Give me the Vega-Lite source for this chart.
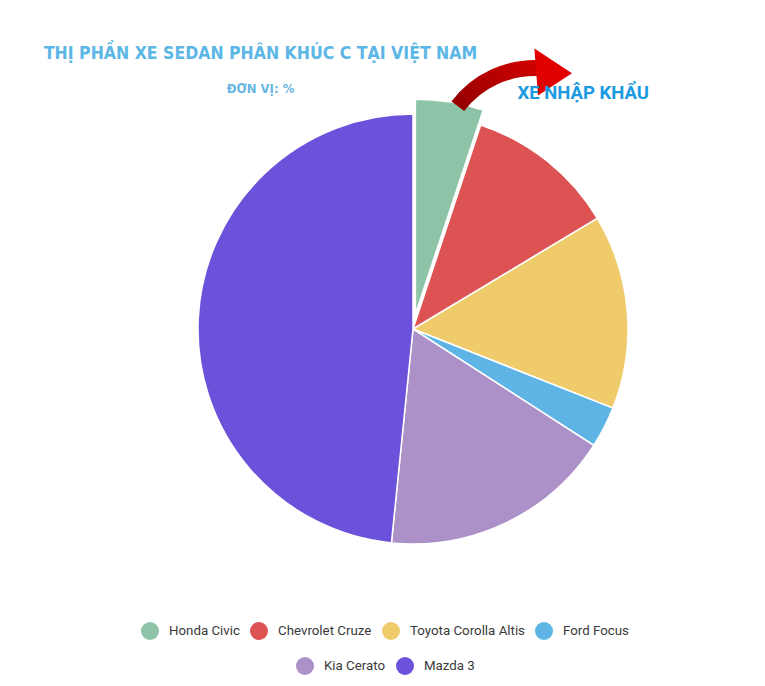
{
  "$schema": "https://vega.github.io/schema/vega-lite/v6.json",
  "width": 765,
  "height": 686,
  "autosize": {"type": "none"},
  "padding": 0,
  "background": "white",
  "title": {
    "text": "THỊ PHẦN XE SEDAN PHÂN KHÚC C TẠI VIỆT NAM",
    "subtitle": "ĐƠN VỊ: %",
    "anchor": "middle",
    "frame": "group",
    "dx": -122,
    "offset": -96,
    "font": "DejaVu Sans Condensed, DejaVu Sans, sans-serif",
    "fontSize": 17.5,
    "fontWeight": "bold",
    "color": "#5cb6e6",
    "subtitleFont": "DejaVu Sans Condensed, DejaVu Sans, sans-serif",
    "subtitleFontSize": 13,
    "subtitleFontWeight": "bold",
    "subtitleColor": "#67b5e2",
    "subtitlePadding": 21
  },
  "data": {
    "values": [
      {"brand": "Honda Civic", "share": 5.1, "rank": 1},
      {"brand": "Chevrolet Cruze", "share": 11.3, "rank": 2},
      {"brand": "Toyota Corolla Altis", "share": 14.6, "rank": 3},
      {"brand": "Ford Focus", "share": 3.1, "rank": 4},
      {"brand": "Kia Cerato", "share": 17.5, "rank": 5},
      {"brand": "Mazda 3", "share": 48.4, "rank": 6}
    ]
  },
  "layer": [
    {
      "mark": {"type": "arc", "outerRadius": 215, "stroke": "white", "strokeWidth": 1.5, "xOffset": 30.5, "yOffset": -14},
      "encoding": {
        "theta": {"field": "share", "type": "quantitative", "stack": true},
        "order": {"field": "rank", "type": "quantitative"},
        "color": {
          "field": "brand",
          "type": "nominal",
          "sort": ["Honda Civic", "Chevrolet Cruze", "Toyota Corolla Altis", "Ford Focus", "Kia Cerato", "Mazda 3"],
          "scale": {
            "domain": ["Honda Civic", "Chevrolet Cruze", "Toyota Corolla Altis", "Ford Focus", "Kia Cerato", "Mazda 3"],
            "range": ["#8dc3a7", "#dd5354", "#efcb6b", "#5db4e5", "#ab91c8", "#6c52db"]
          },
          "legend": {
            "title": null,
            "orient": "none",
            "legendX": 141,
            "legendY": 622,
            "direction": "horizontal",
            "values": ["Honda Civic", "Chevrolet Cruze", "Toyota Corolla Altis", "Ford Focus"],
            "symbolType": "circle",
            "symbolSize": 324,
            "symbolStrokeWidth": 0,
            "labelFont": "Roboto",
            "labelFontSize": 13.3,
            "labelFontWeight": "normal",
            "labelColor": "#3a3a3a",
            "labelOffset": 10,
            "columnPadding": 10
          }
        },
        "opacity": {
          "condition": {"test": "datum.brand === 'Honda Civic'", "value": 0},
          "value": 1
        }
      }
    },
    {
      "transform": [{"filter": "datum.brand === 'Kia Cerato' || datum.brand === 'Mazda 3'"}],
      "mark": {"type": "arc", "outerRadius": 0, "innerRadius": 0, "strokeWidth": 0},
      "encoding": {
        "theta": {"field": "share", "type": "quantitative", "stack": true},
        "fill": {
          "field": "brand",
          "type": "nominal",
          "sort": ["Kia Cerato", "Mazda 3"],
          "scale": {
            "domain": ["Kia Cerato", "Mazda 3"],
            "range": ["#ab91c8", "#6c52db"]
          },
          "legend": {
            "title": null,
            "orient": "none",
            "legendX": 296,
            "legendY": 657,
            "direction": "horizontal",
            "symbolType": "circle",
            "symbolSize": 324,
            "symbolStrokeWidth": 0,
            "symbolOpacity": 1,
            "labelFont": "Roboto",
            "labelFontSize": 13.3,
            "labelFontWeight": "normal",
            "labelColor": "#3a3a3a",
            "labelOffset": 10,
            "columnPadding": 10
          }
        }
      }
    },
    {
      "transform": [{"filter": "datum.brand === 'Honda Civic'"}],
      "mark": {"type": "arc", "outerRadius": 215, "stroke": "white", "strokeWidth": 1.5, "xOffset": 32.9, "yOffset": -28.8},
      "encoding": {
        "theta": {"field": "share", "type": "quantitative", "stack": true},
        "order": {"field": "rank", "type": "quantitative"},
        "color": {"field": "brand", "type": "nominal"}
      }
    },
    {
      "transform": [{"filter": "datum.brand === 'Honda Civic'"}],
      "mark": {
        "type": "arc",
        "theta": -0.92,
        "theta2": 0.06,
        "innerRadius": 89,
        "outerRadius": 105,
        "xOffset": 152.5,
        "yOffset": -178,
        "color": {
          "gradient": "linear",
          "x1": 0, "y1": 1, "x2": 1, "y2": 0,
          "stops": [{"offset": 0, "color": "#8e0000"}, {"offset": 1, "color": "#d40000"}]
        }
      },
      "encoding": {}
    },
    {
      "transform": [{"filter": "datum.brand === 'Honda Civic'"}],
      "mark": {
        "type": "point",
        "shape": "M-0.6,-1L1,0.05L-0.45,1Z",
        "size": 2200,
        "filled": true,
        "opacity": 1,
        "color": "#e00000",
        "strokeWidth": 0,
        "xOffset": 166,
        "yOffset": -271
      },
      "encoding": {}
    },
    {
      "transform": [{"filter": "datum.brand === 'Honda Civic'"}],
      "mark": {"type": "text", "radius": 240, "xOffset": 30.5, "yOffset": -14, "dx": 132, "dy": 1, "fontSize": 18.5, "font": "Roboto", "fontWeight": "bold", "color": "#1a9ae0", "align": "center", "baseline": "middle"},
      "encoding": {
        "theta": {"field": "share", "type": "quantitative", "stack": true},
        "text": {"value": "XE NHẬP KHẨU"}
      }
    }
  ],
  "config": {"view": {"stroke": null}}
}
